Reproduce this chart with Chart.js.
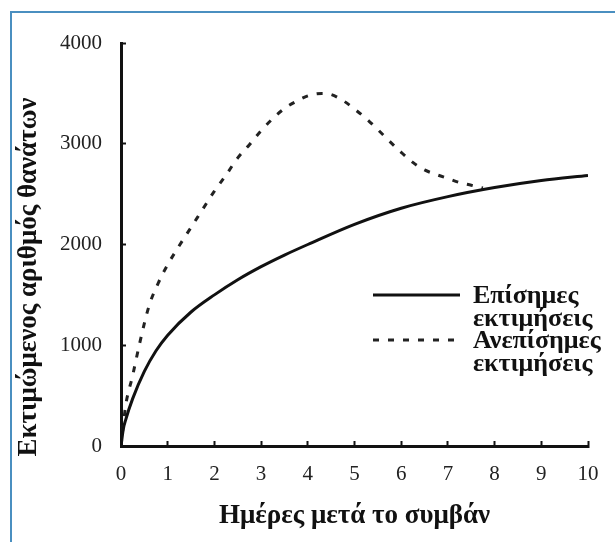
<!DOCTYPE html>
<html>
<head>
<meta charset="utf-8">
<script src="https://cdn.jsdelivr.net/npm/chart.js@4/dist/chart.umd.min.js"></script>
<style>
  html, body { margin: 0; padding: 0; background: #fff; }
  #wrap { position: relative; width: 615px; height: 542px; }
  #frame { position: absolute; left: 10px; top: 11px; right: 0; bottom: 0;
           border-top: 2px solid #4a8fc0; border-left: 2px solid #4a8fc0; }
  canvas { position: absolute; left: 0; top: 0; }
</style>
</head>
<body>
<div id="wrap">
  <div id="frame"></div>
  <canvas id="chart" width="615" height="542"></canvas>
</div>
<script>
// data
var officialDays = [0, 0.05, 0.1, 0.25, 0.5, 0.75, 1, 1.5, 2, 2.5, 3, 3.5, 4, 5, 6, 7, 8, 9, 10];
var officialDeaths = [0, 170, 260, 470, 740, 945, 1100, 1330, 1500, 1650, 1780, 1895, 2000, 2200, 2360, 2475, 2565, 2635, 2685];

var unofficialDays = [0, 0.1, 0.25, 0.4, 0.6, 0.8, 1, 1.25, 1.5, 1.75, 2, 2.25, 2.5, 2.75, 3, 3.25, 3.5, 3.75, 4, 4.3, 4.5, 4.75, 5, 5.25, 5.5, 5.75, 6, 6.25, 6.5, 6.75, 7, 7.25, 7.5, 7.75];
var unofficialDeaths = [0, 400, 700, 1020, 1390, 1620, 1800, 1990, 2170, 2350, 2530, 2690, 2860, 2990, 3130, 3250, 3350, 3420, 3475, 3500, 3488, 3430, 3345, 3250, 3140, 3025, 2915, 2815, 2740, 2695, 2655, 2615, 2588, 2560];

var seriesNames = [['Επίσημες', 'εκτιμήσεις'], ['Ανεπίσημες', 'εκτιμήσεις']];
var xTitle = 'Ημέρες μετά το συμβάν';
var yTitle = 'Εκτιμώμενος αριθμός θανάτων';

function toPoints(xs, ys) {
  return xs.map(function (x, i) { return { x: x, y: ys[i] }; });
}

var serif = '"Liberation Serif", "DejaVu Serif", serif';

// y title and legend drawn on the canvas
var extras = {
  id: 'extras',
  afterDraw: function (chart) {
    var ctx = chart.ctx;
    var area = chart.chartArea;
    ctx.save();
    ctx.fillStyle = '#111';
    ctx.font = 'bold 27px ' + serif;
    ctx.textAlign = 'center';
    ctx.textBaseline = 'middle';
    ctx.translate(29, 277);
    ctx.rotate(-Math.PI / 2);
    ctx.fillText(yTitle, 0, 0);
    ctx.restore();

    var lx0 = area.right - 215, lx1 = area.right - 128, tx = area.right - 115;
    var rows = [area.top + 252, area.top + 297];
    chart.data.datasets.forEach(function (ds, i) {
      ctx.save();
      ctx.strokeStyle = ds.borderColor;
      ctx.lineWidth = ds.borderWidth;
      ctx.setLineDash(ds.borderDash || []);
      ctx.beginPath();
      ctx.moveTo(lx0, rows[i]);
      ctx.lineTo(lx1, rows[i]);
      ctx.stroke();
      ctx.restore();
      ctx.save();
      ctx.fillStyle = '#111';
      ctx.font = 'bold 26px ' + serif;
      ctx.textAlign = 'left';
      ctx.textBaseline = 'alphabetic';
      seriesNames[i].forEach(function (line, j) {
        ctx.fillText(line, tx, rows[i] + 8 + j * 23);
      });
      ctx.restore();
    });
  }
};

new Chart(document.getElementById('chart'), {
  type: 'line',
  data: {
    datasets: [
      {
        label: seriesNames[0].join(' '),
        data: toPoints(officialDays, officialDeaths),
        borderColor: '#111',
        borderWidth: 3,
        pointRadius: 0,
        cubicInterpolationMode: 'monotone'
      }, {
        label: seriesNames[1].join(' '),
        data: toPoints(unofficialDays, unofficialDeaths),
        borderColor: '#222',
        borderWidth: 3,
        borderDash: [6, 9],
        pointRadius: 0,
        cubicInterpolationMode: 'monotone'
      }
    ]
  },
  options: {
    responsive: false,
    animation: false,
    layout: { padding: { left: 0, top: 43, right: 27, bottom: 0 } },
    plugins: { legend: { display: false }, tooltip: { enabled: false } },
    scales: {
      x: {
        type: 'linear',
        min: 0, max: 10,
        afterFit: function (s) { s.height = 96; s.paddingLeft = 0; s.paddingRight = 0; },
        border: { color: '#111', width: 3 },
        grid: { drawOnChartArea: false, tickLength: -5, tickWidth: 2, color: '#111' },
        ticks: { stepSize: 1, padding: 21, color: '#222', font: { family: serif, size: 21 } },
        title: { display: true, text: xTitle, color: '#111', padding: { bottom: 10 },
                 font: { family: serif, size: 27, weight: 'bold' } }
      },
      y: {
        min: 0, max: 4000,
        afterFit: function (s) { s.width = 121; s.paddingTop = 0; s.paddingBottom = 0; },
        border: { color: '#111', width: 3 },
        grid: { drawOnChartArea: false, tickLength: -5, tickWidth: 2, color: '#111' },
        ticks: { stepSize: 1000, padding: 24, color: '#222', font: { family: serif, size: 21 },
                 callback: function (v) { return String(v); } }
      }
    }
  },
  plugins: [extras]
});
</script>
</body>
</html>
